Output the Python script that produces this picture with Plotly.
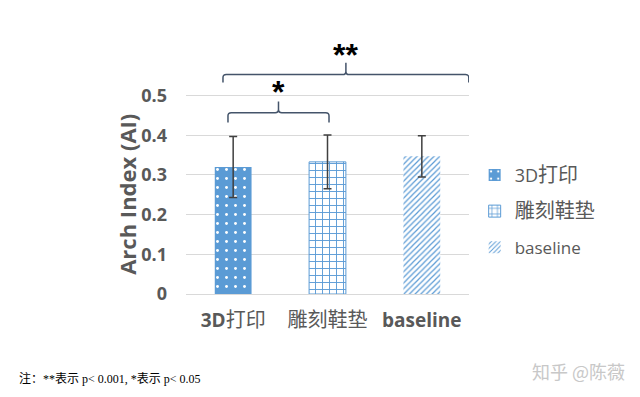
import plotly.graph_objects as go

categories = ["3D打印", "雕刻鞋垫", "baseline"]
tick_labels = ["<b>3D</b><span style='font-size:20px'>打印</span>",
               "<span style='font-size:20px'>雕刻鞋垫</span>",
               "<b>baseline</b>"]
legend_names = ["<span style='font-size:18px'>3D</span><span style='font-size:20px'>打印</span>",
                "<span style='font-size:20px'>雕刻鞋垫</span>",
                "baseline"]
means = [0.32, 0.333, 0.347]
errors = [0.077, 0.068, 0.052]
y_ticks = [0, 0.1, 0.2, 0.3, 0.4, 0.5]
y_tick_labels = ["0", "0.1", "0.2", "0.3", "0.4", "0.5"]

BLUE = "#5B9BD5"
GRAY = "#595959"
LAT = "Open Sans, Noto Sans CJK SC, sans-serif"
CJK = "Noto Sans CJK SC"

patterns = [
    dict(shape=".", fgcolor="white", bgcolor=BLUE, size=9, solidity=0.08, fillmode="replace"),
    dict(shape="+", fgcolor=BLUE, bgcolor="white", size=7, solidity=0.25, fillmode="replace"),
    dict(shape="/", fgcolor=BLUE, bgcolor="white", size=4, solidity=0.3, fillmode="replace"),
]

fig = go.Figure()
for i, cat in enumerate(categories):
    fig.add_trace(go.Bar(
        x=[cat], y=[means[i]], name=legend_names[i], legendgroup=cat,
        width=0.39,
        marker=dict(color=BLUE if i == 0 else "white", pattern=patterns[i],
                    line=dict(width=1 if i == 1 else 0, color=BLUE)),
        error_y=dict(type="data", array=[errors[i]], visible=True,
                     color="#404040", thickness=1.5, width=4),
    ))

W, H = 632, 389            # page body has an 8px offset
L, R, B = 178, 171, 103
YMAX = 0.62
T = (H - B) - 396 * YMAX
fig.update_layout(
    width=W, height=H,
    margin=dict(l=L, r=R, t=T, b=B, autoexpand=False),
    plot_bgcolor="white", paper_bgcolor="white",
    barmode="group",
    font=dict(family=LAT, color=GRAY),
    legend=dict(x=1.02, y=0.555, yanchor="top", xanchor="left",
                font=dict(size=17, color=GRAY, family=LAT),
                tracegroupgap=11, itemwidth=30),
    showlegend=True,
)
fig.update_xaxes(range=[-0.5, 2.5], showline=False, showgrid=False,
                 tickvals=categories, ticktext=tick_labels,
                 tickfont=dict(size=19, color=GRAY, family=LAT),
                 ticks="", ticklabelstandoff=13)
fig.update_yaxes(range=[0, YMAX], tickvals=y_ticks, ticktext=y_tick_labels,
                 showgrid=True, gridcolor="#D9D9D9", gridwidth=1,
                 zeroline=True, zerolinecolor="#D9D9D9", zerolinewidth=1,
                 showline=False, ticks="", ticklabelstandoff=18,
                 tickfont=dict(size=18, color=GRAY, family=LAT, weight="bold"))

pw = W - L - R
ph = H - T - B
fig.add_annotation(x=(119 - L) / pw, y=0.25, xref="paper", yref="y",
                   text="<b>Arch Index (AI)</b>", textangle=-90, showarrow=False,
                   xanchor="center", yanchor="middle",
                   font=dict(size=22, color=GRAY, family=LAT))


def bracket(x0, x1, y, drop, tip, r=0.035):
    xm = (x0 + x1) / 2
    ry = 0.008
    p = (f"M {x0},{y - drop} L {x0},{y - ry} Q {x0},{y} {x0 + r},{y} "
         f"L {xm - r},{y} Q {xm},{y} {xm},{y + ry} L {xm},{tip} "
         f"M {xm},{y + ry} Q {xm},{y} {xm + r},{y} "
         f"L {x1 - r},{y} Q {x1},{y} {x1},{y - ry} L {x1},{y - drop}")
    fig.add_shape(type="path", path=p, xref="x", yref="y",
                  line=dict(color="#44546A", width=1.5))
    return xm


xm1 = bracket(-0.108, 2.498, 0.553, 0.02, 0.583)
fig.add_annotation(x=xm1, y=0.603, xref="x", yref="y", text="<b>**</b>", showarrow=False,
                   font=dict(size=32, color="black", family="Liberation Sans"), yanchor="middle")
xm2 = bracket(-0.055, 1.016, 0.457, 0.025, 0.485)
fig.add_annotation(x=xm2, y=0.509, xref="x", yref="y", text="<b>*</b>", showarrow=False,
                   font=dict(size=32, color="black", family="Liberation Sans"), yanchor="middle")

fig.add_annotation(x=(9 - L) / pw, y=(286 - 370) / ph, xref="paper", yref="paper",
                   xanchor="left", yanchor="middle", showarrow=False,
                   text="注：**表示 p< 0.001, *表示 p< 0.05",
                   font=dict(size=12, color="black", family="Liberation Serif, Noto Sans CJK SC"))
fig.add_annotation(x=(619 - L) / pw, y=(286 - 363) / ph, xref="paper", yref="paper",
                   xanchor="right", yanchor="middle", showarrow=False,
                   text="知乎 @陈薇",
                   font=dict(size=18, color="#C8C8C8", family=CJK))

fig.write_html("out.html")
